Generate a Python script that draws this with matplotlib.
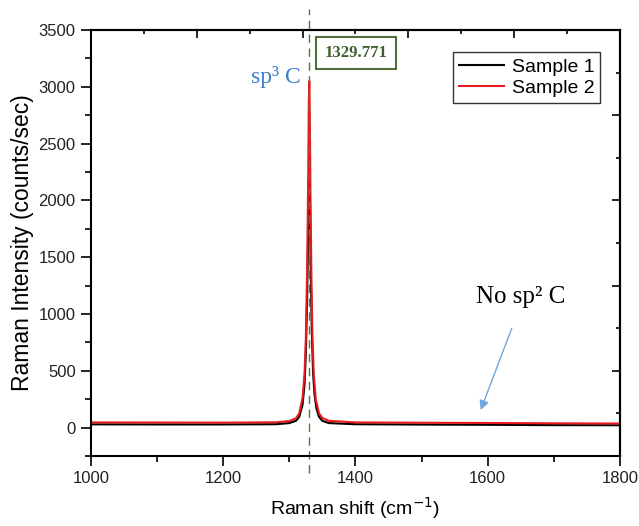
import numpy as np
import matplotlib
matplotlib.use("Agg")
import matplotlib.pyplot as plt

plt.rcParams['font.family'] = ['Liberation Sans', 'DejaVu Sans']

# spectra (Raman shift cm-1, counts/sec)
shift_1 = [1000, 1100, 1200, 1280, 1300, 1310, 1315, 1320, 1323, 1325, 1327,
           1328.5, 1329.5, 1330.5, 1331.5, 1332.5, 1334, 1336, 1338, 1341,
           1345, 1350, 1360, 1400, 1500, 1600, 1700, 1800]
counts_1 = [29, 28, 28, 30, 40, 60, 95, 200, 380, 650, 1150,
            1700, 2150, 2300, 1900, 1350, 850, 480, 300, 170,
            95, 60, 40, 30, 27, 25, 22, 21]

shift_2 = [1000, 1100, 1200, 1280, 1300, 1310, 1315, 1320, 1323, 1325, 1327,
           1328.5, 1329.5, 1330.2, 1331, 1332, 1333.5, 1335, 1337, 1340,
           1345, 1350, 1360, 1400, 1500, 1600, 1700, 1800]
counts_2 = [46, 45, 44, 47, 58, 82, 125, 260, 470, 780, 1400,
            2150, 2850, 3050, 2750, 2050, 1300, 800, 470, 250,
            125, 85, 60, 46, 43, 41, 38, 36]

peak_pos = 1329.771
labels = ["Sample 1", "Sample 2"]

fig = plt.figure(figsize=(6.39, 5.26), dpi=100)
ax = fig.add_axes([0.1424, 0.133, 0.8276, 0.810])

ax.plot(shift_1, counts_1, color='black', lw=1.5, label=labels[0])
ax.plot(shift_2, counts_2, color='#e8191f', lw=1.5, label=labels[1])
ax.axvline(peak_pos, color='#4f7a3a', lw=1, ls=(0, (6, 4)), ymin=-0.04, ymax=1.05,
           clip_on=False)

ax.set_xlim(1000, 1800)
ax.set_ylim(-250, 3500)
ax.set_xticks(np.arange(1000, 1801, 200))
ax.set_xticks(np.arange(1000, 1801, 100), minor=True)
ax.set_yticks(np.arange(0, 3501, 500))
ax.set_yticks(np.arange(-250, 3501, 250), minor=True)
ax.tick_params(which='major', direction='out', length=7, width=1.2, labelsize=12,
               labelcolor='#222222', pad=4)
ax.tick_params(which='minor', direction='out', length=4, width=1.2)
for s in ax.spines.values():
    s.set_linewidth(1.5)

# top and right axes have their own inward ticks
top = ax.secondary_xaxis('top')
top.set_xticks(np.linspace(1000, 1800, 11)[::2])
top.set_xticks(np.linspace(1000, 1800, 11)[1::2], minor=True)
top.tick_params(which='major', direction='in', length=6, width=1.2, labeltop=False)
top.tick_params(which='minor', direction='in', length=3, width=1.2)
top.spines['top'].set_linewidth(1.5)

right = ax.secondary_yaxis('right')
right.set_yticks(np.linspace(-250, 3500, 11)[::2])
right.set_yticks(np.linspace(-250, 3500, 11)[1::2], minor=True)
right.tick_params(which='major', direction='in', length=6, width=1.2, labelright=False)
right.tick_params(which='minor', direction='in', length=3, width=1.2)
right.spines['right'].set_linewidth(1.5)

ax.set_xlabel('Raman shift (cm$^{-1}$)', fontsize=14, labelpad=6)
ax.set_ylabel('Raman Intensity (counts/sec)', fontsize=16.5, labelpad=3)

ax.legend(loc='upper right', bbox_to_anchor=(0.963, 0.948), fontsize=14,
          frameon=True, fancybox=False, edgecolor='black', handlelength=2.3,
          borderpad=0.3, labelspacing=0.2, handletextpad=0.4, borderaxespad=0)

ax.text(1401, 3298, '1329.771', fontsize=12, fontweight='bold', family='Liberation Serif',
        color='#3e5f2c', ha='center', va='center',
        bbox=dict(boxstyle='square,pad=0.5', fc='white', ec='#4e6e3a', lw=1.5))
ax.text(1318, 3030, 'sp³ C', fontsize=17, family='Liberation Serif',
        color='#3d7fcb', ha='right', va='baseline')
ax.text(1650, 1100, 'No sp² C', fontsize=18, family='Liberation Serif',
        color='black', ha='center', va='baseline')
ax.annotate('', xy=(1588, 132), xytext=(1638, 897),
            arrowprops=dict(arrowstyle='-|>', color='#6fa8dc', lw=1, mutation_scale=14))

fig.savefig('out.png', dpi=100)
